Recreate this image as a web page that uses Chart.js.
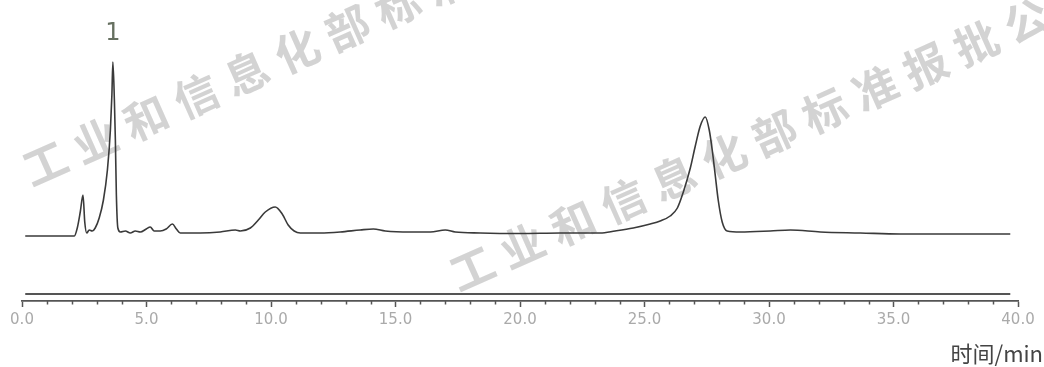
<!DOCTYPE html>
<html>
<head>
<meta charset="utf-8">
<script src="https://cdn.jsdelivr.net/npm/chart.js@4"></script>
<style>
  html, body { margin: 0; padding: 0; background: #fff; }
  #wrap { width: 1044px; height: 367px; position: relative; }
</style>
</head>
<body>
<div id="wrap"><canvas id="myChart"></canvas></div>
<script>
// retention time (min) and detector signal
var times = [0.13, 2.10, 2.22, 2.34, 2.45, 2.52, 2.60, 2.70, 2.82, 2.94, 3.10, 3.27, 3.43, 3.55, 3.61, 3.65,
  3.71, 3.75, 3.79, 3.85, 3.95, 4.15, 4.35, 4.55, 4.75, 4.99, 5.15, 5.31, 5.55, 5.79, 6.04, 6.20, 6.36,
  7.16, 7.96, 8.57, 8.77, 9.17, 9.49, 9.77, 10.17, 10.45, 10.69, 10.93, 11.18, 11.98, 12.78, 13.58, 14.11,
  14.59, 15.59, 16.40, 17.00, 17.40, 18.40, 20.01, 21.62, 23.22, 23.82, 24.55, 25.23, 25.63, 26.03, 26.32,
  26.56, 26.84, 27.04, 27.24, 27.44, 27.60, 27.72, 27.84, 27.96, 28.12, 28.32, 28.85, 30.05, 30.86, 32.06,
  33.67, 35.27, 37.28, 39.69];
var signal = [0, 0, 8, 24, 41, 14, 3, 6, 5, 8, 18, 36, 66, 106, 141, 174,
  136, 96, 41, 8, 4, 5, 3, 5, 4, 7, 9, 5, 5, 7, 12, 7, 3,
  3, 4, 6, 5, 8, 16, 24, 29, 22, 11, 5, 3, 3, 4, 6, 7,
  5, 4, 4, 6, 4, 3, 2.5, 3, 3, 5, 8, 12, 15, 20, 28,
  44, 68, 90, 110, 119, 106, 86, 61, 36, 14, 5, 4, 5, 6, 4,
  3, 2, 2, 2];

// second (reference) trace drawn just above the axis
var refTimes = [0.13, 39.69];
var refSignal = [-58, -58];

var majorTicks = [0, 5, 10, 15, 20, 25, 30, 35, 40];
var peakLabels = ["1"];
var peakTimes = [3.65];
var peakHeights = [174];

var axisTitle = "时间/min";
var watermark = "工业和信息化部标准报批公示稿";

var points = times.map(function (t, i) { return { x: t, y: signal[i] }; });
var refPoints = refTimes.map(function (t, i) { return { x: t, y: refSignal[i] }; });

////////////////////////////////////////// extra drawing: watermark, minor ticks, peak label, axis title
var extras = {
  id: "extras",
  beforeDatasetsDraw: function (chart) {
    var ctx = chart.ctx;
    ctx.save();
    ctx.font = "bold 44px 'Noto Sans CJK SC'";
    ctx.fillStyle = "rgba(200,200,200,0.8)";
    ctx.textAlign = "center";
    ctx.textBaseline = "middle";
    var starts = [[45, 163], [472, 268]];
    starts.forEach(function (s) {
      for (var i = 0; i < watermark.length; i++) {
        ctx.save();
        ctx.translate(s[0] + i * 50.4, s[1] - i * 22.5);
        ctx.rotate(-24 * Math.PI / 180);
        ctx.fillText(watermark[i], 0, 0);
        ctx.restore();
      }
    });
    ctx.restore();
  },
  afterDraw: function (chart) {
    var ctx = chart.ctx;
    var xs = chart.scales.x;
    var ys = chart.scales.y;
    var bottom = chart.chartArea.bottom;
    ctx.save();
    // minor ticks every 1 min
    ctx.strokeStyle = "#555";
    ctx.lineWidth = 1.5;
    for (var m = 0; m <= 40; m++) {
      if (m % 5 === 0) continue;
      var px = Math.round(xs.getPixelForValue(m)) + 0.5;
      ctx.beginPath();
      ctx.moveTo(px, bottom);
      ctx.lineTo(px, bottom + 3.5);
      ctx.stroke();
    }
    // peak numbers
    ctx.font = "24px 'DejaVu Sans'";
    ctx.fillStyle = "#667060";
    ctx.textAlign = "center";
    ctx.textBaseline = "middle";
    peakLabels.forEach(function (lab, i) {
      ctx.fillText(lab, xs.getPixelForValue(peakTimes[i]), ys.getPixelForValue(peakHeights[i]) - 28);
    });
    // axis title
    ctx.font = "22px 'Noto Sans CJK SC'";
    ctx.fillStyle = "#444";
    ctx.textAlign = "right";
    ctx.fillText(axisTitle, 1043, 354);
    ctx.restore();
  }
};

const config = {
  type: "line",
  data: {
    datasets: [
      {
        label: "trace",
        data: points,
        borderColor: "#3a3a3a",
        borderWidth: 1.6,
        pointRadius: 0,
        cubicInterpolationMode: "monotone",
        fill: false,
      },
      {
        label: "ref",
        data: refPoints,
        borderColor: "#555",
        borderWidth: 1.8,
        pointRadius: 0,
        fill: false,
      },
    ],
  },
  options: {
    responsive: false,
    animation: false,
    events: [],
    layout: { padding: { left: 22, right: 26, top: 10, bottom: 0 } },
    plugins: { legend: { display: false }, tooltip: { enabled: false } },
    scales: {
      x: {
        type: "linear",
        min: 0,
        max: 40,
        afterFit: function (scale) { scale.height = 66; },
        afterBuildTicks: function (scale) {
          scale.ticks = majorTicks.map(function (v) { return { value: v }; });
        },
        grid: { drawOnChartArea: false, drawTicks: true, tickLength: 6, tickColor: "#555", tickWidth: 1.5 },
        border: { display: true, color: "#555", width: 1.8 },
        ticks: {
          padding: 4,
          color: "#aaa",
          font: { family: "DejaVu Sans", size: 15 },
          maxRotation: 0,
          autoSkip: false,
          callback: function (v) { return Number(v).toFixed(1); },
        },
      },
      y: {
        display: false,
        min: -65,
        max: 226,
      },
    },
  },
  plugins: [extras],
};

var canvas = document.getElementById("myChart");
canvas.width = 1044;
canvas.height = 367;
const myChart = new Chart(canvas, config);
</script>
</body>
</html>
